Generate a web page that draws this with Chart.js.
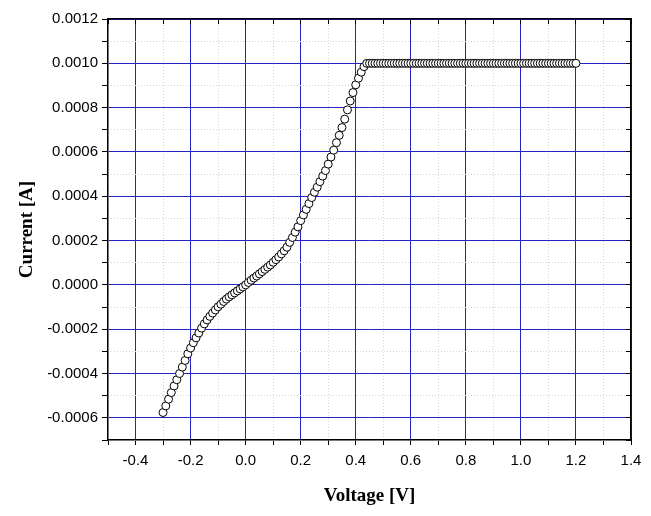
<!DOCTYPE html>
<html>
<head>
<meta charset="utf-8">
<script src="https://cdn.jsdelivr.net/npm/chart.js@4.4.0/dist/chart.umd.min.js"></script>
<style>
  body { margin: 0; background: #fff; }
  #wrap { width: 651px; height: 516px; }
</style>
</head>
<body>
<div id="wrap"><canvas id="canvas" width="651" height="516"></canvas></div>
<script>
// tension (V)
const voltage = [
  -0.30, -0.29, -0.28, -0.27, -0.26, -0.25, -0.24, -0.23, -0.22, -0.21,
  -0.20, -0.19, -0.18, -0.17, -0.16, -0.15, -0.14, -0.13, -0.12, -0.11,
  -0.10, -0.09, -0.08, -0.07, -0.06, -0.05, -0.04, -0.03, -0.02, -0.01,
  0.00, 0.01, 0.02, 0.03, 0.04, 0.05, 0.06, 0.07, 0.08, 0.09,
  0.10, 0.11, 0.12, 0.13, 0.14, 0.15, 0.16, 0.17, 0.18, 0.19,
  0.20, 0.21, 0.22, 0.23, 0.24, 0.25, 0.26, 0.27, 0.28, 0.29,
  0.30, 0.31, 0.32, 0.33, 0.34, 0.35, 0.36, 0.37, 0.38, 0.39,
  0.40, 0.41, 0.42, 0.43, 0.44, 0.45, 0.46, 0.47, 0.48, 0.49,
  0.50, 0.51, 0.52, 0.53, 0.54, 0.55, 0.56, 0.57, 0.58, 0.59,
  0.60, 0.61, 0.62, 0.63, 0.64, 0.65, 0.66, 0.67, 0.68, 0.69,
  0.70, 0.71, 0.72, 0.73, 0.74, 0.75, 0.76, 0.77, 0.78, 0.79,
  0.80, 0.81, 0.82, 0.83, 0.84, 0.85, 0.86, 0.87, 0.88, 0.89,
  0.90, 0.91, 0.92, 0.93, 0.94, 0.95, 0.96, 0.97, 0.98, 0.99,
  1.00, 1.01, 1.02, 1.03, 1.04, 1.05, 1.06, 1.07, 1.08, 1.09,
  1.10, 1.11, 1.12, 1.13, 1.14, 1.15, 1.16, 1.17, 1.18, 1.19,
  1.20
];

// courant (A)
const current = [
  -0.000576, -0.000546, -0.000516, -0.000486, -0.000456, -0.000428, -0.000400, -0.000371, -0.000341, -0.000311,
  -0.000285, -0.000261, -0.000239, -0.000217, -0.000195, -0.000176, -0.000158, -0.000142, -0.000127, -0.000113,
  -0.000099, -0.000087, -0.000075, -0.000064, -0.000054, -0.000045, -0.000036, -0.000027, -0.000018, -0.000009,
  0.000000, 0.000011, 0.000021, 0.000031, 0.000040, 0.000050, 0.000060, 0.000070, 0.000080, 0.000090,
  0.000102, 0.000114, 0.000126, 0.000140, 0.000154, 0.000170, 0.000192, 0.000214, 0.000238, 0.000262,
  0.000290, 0.000316, 0.000341, 0.000367, 0.000394, 0.000418, 0.000441, 0.000466, 0.000491, 0.000516,
  0.000545, 0.000577, 0.000608, 0.000642, 0.000675, 0.000710, 0.000748, 0.000790, 0.000830, 0.000868,
  0.000903, 0.000933, 0.000960, 0.000985, 0.001000, 0.001, 0.001, 0.001, 0.001, 0.001,
  0.001, 0.001, 0.001, 0.001, 0.001, 0.001, 0.001, 0.001, 0.001, 0.001,
  0.001, 0.001, 0.001, 0.001, 0.001, 0.001, 0.001, 0.001, 0.001, 0.001,
  0.001, 0.001, 0.001, 0.001, 0.001, 0.001, 0.001, 0.001, 0.001, 0.001,
  0.001, 0.001, 0.001, 0.001, 0.001, 0.001, 0.001, 0.001, 0.001, 0.001,
  0.001, 0.001, 0.001, 0.001, 0.001, 0.001, 0.001, 0.001, 0.001, 0.001,
  0.001, 0.001, 0.001, 0.001, 0.001, 0.001, 0.001, 0.001, 0.001, 0.001,
  0.001, 0.001, 0.001, 0.001, 0.001, 0.001, 0.001, 0.001, 0.001, 0.001,
  0.001
];

// bornes des axes
const xMin = -0.5, xMax = 1.4, xStep = 0.1;
const yMin = -0.0007, yMax = 0.0012, yStep = 0.0001;

const majorColor = '#2323c8';
const minorColor = '#cfd8cf';
const tickFont = { family: "'Liberation Sans', Arial, sans-serif", size: 15 };
const titleFont = { family: "'Liberation Serif', 'Times New Roman', serif", size: 19, weight: 'bold' };

// une graduation sur deux porte un libellé
const isMajorX = v => Math.round(v * 10) % 2 === 0;
const isMajorY = v => Math.round(v * 10000) % 2 === 0;

// évite les "-0.0000" dus aux arrondis
const fmt = (v, d) => (Math.abs(v) < 1e-12 ? 0 : v).toFixed(d);

function gridColor(isMajor, major) {
  return ctx => {
    if (!ctx.tick) return 'rgba(0,0,0,0)';
    return isMajor(ctx.tick.value) === major ? (major ? majorColor : minorColor) : 'rgba(0,0,0,0)';
  };
}

const points = voltage.map((v, i) => ({ x: v, y: current[i] }));

new Chart(document.querySelector('#canvas'), {
  type: 'scatter',
  data: {
    datasets: [{
      data: points,
      showLine: false,
      pointRadius: 4,
      pointBorderWidth: 1,
      pointBackgroundColor: '#ffffff',
      pointBorderColor: '#000000',
      xAxisID: 'x',
      yAxisID: 'y'
    }]
  },
  options: {
    responsive: false,
    animation: false,
    events: [],
    layout: { padding: { left: 0, right: 20, top: 19, bottom: 0 } },
    plugins: {
      legend: { display: false },
      tooltip: { enabled: false }
    },
    scales: {
      x: {
        type: 'linear', position: 'bottom', weight: 1,
        min: xMin, max: xMax,
        afterFit: s => { s.height = 76; },
        ticks: {
          stepSize: xStep, color: '#000', font: tickFont, padding: 7,
          maxRotation: 0, autoSkip: false,
          callback: v => isMajorX(v) ? fmt(v, 1) : ''
        },
        grid: { color: gridColor(isMajorX, true), lineWidth: 1, tickColor: '#000', tickLength: 5, tickWidth: 1 },
        border: { display: true, color: '#000', width: 1.5 },
        title: { display: true, text: 'Voltage [V]', color: '#000', font: titleFont, padding: { top: 0, bottom: 9 } }
      },
      xMinor: {
        type: 'linear', axis: 'x', position: 'bottom', weight: 0,
        min: xMin, max: xMax,
        afterFit: s => { s.height = 0; },
        ticks: { display: false, stepSize: xStep, autoSkip: false },
        grid: { color: gridColor(isMajorX, false), lineWidth: 1, drawTicks: false, z: -1 },
        border: { display: false, dash: [1, 2] }
      },
      xTop: {
        type: 'linear', axis: 'x', position: 'top',
        min: xMin, max: xMax,
        afterFit: s => { s.height = 0; },
        ticks: { display: false, stepSize: xStep, autoSkip: false },
        grid: { drawOnChartArea: false, tickColor: '#000', tickLength: -5, tickWidth: 1 },
        border: { display: true, color: '#000', width: 1.5 }
      },
      y: {
        type: 'linear', position: 'left', weight: 1,
        min: yMin, max: yMax,
        afterFit: s => { s.width = 108; },
        ticks: {
          stepSize: yStep, color: '#000', font: tickFont, padding: 4, autoSkip: false,
          callback: v => isMajorY(v) ? fmt(v, 4) : ''
        },
        grid: { color: gridColor(isMajorY, true), lineWidth: 1, tickColor: '#000', tickLength: 6, tickWidth: 1 },
        border: { display: true, color: '#000', width: 1.5 },
        title: { display: true, text: 'Current [A]', color: '#000', font: titleFont, padding: { top: 16, bottom: 0 } }
      },
      yMinor: {
        type: 'linear', axis: 'y', position: 'left', weight: 0,
        min: yMin, max: yMax,
        afterFit: s => { s.width = 0; },
        ticks: { display: false, stepSize: yStep, autoSkip: false },
        grid: { color: gridColor(isMajorY, false), lineWidth: 1, drawTicks: false, z: -1 },
        border: { display: false, dash: [1, 2] }
      },
      yRight: {
        type: 'linear', axis: 'y', position: 'right',
        min: yMin, max: yMax,
        afterFit: s => { s.width = 0; },
        ticks: { display: false, stepSize: yStep, autoSkip: false },
        grid: { drawOnChartArea: false, tickColor: '#000', tickLength: -5, tickWidth: 1 },
        border: { display: true, color: '#000', width: 1.5 }
      }
    }
  }
});
</script>
</body>
</html>
